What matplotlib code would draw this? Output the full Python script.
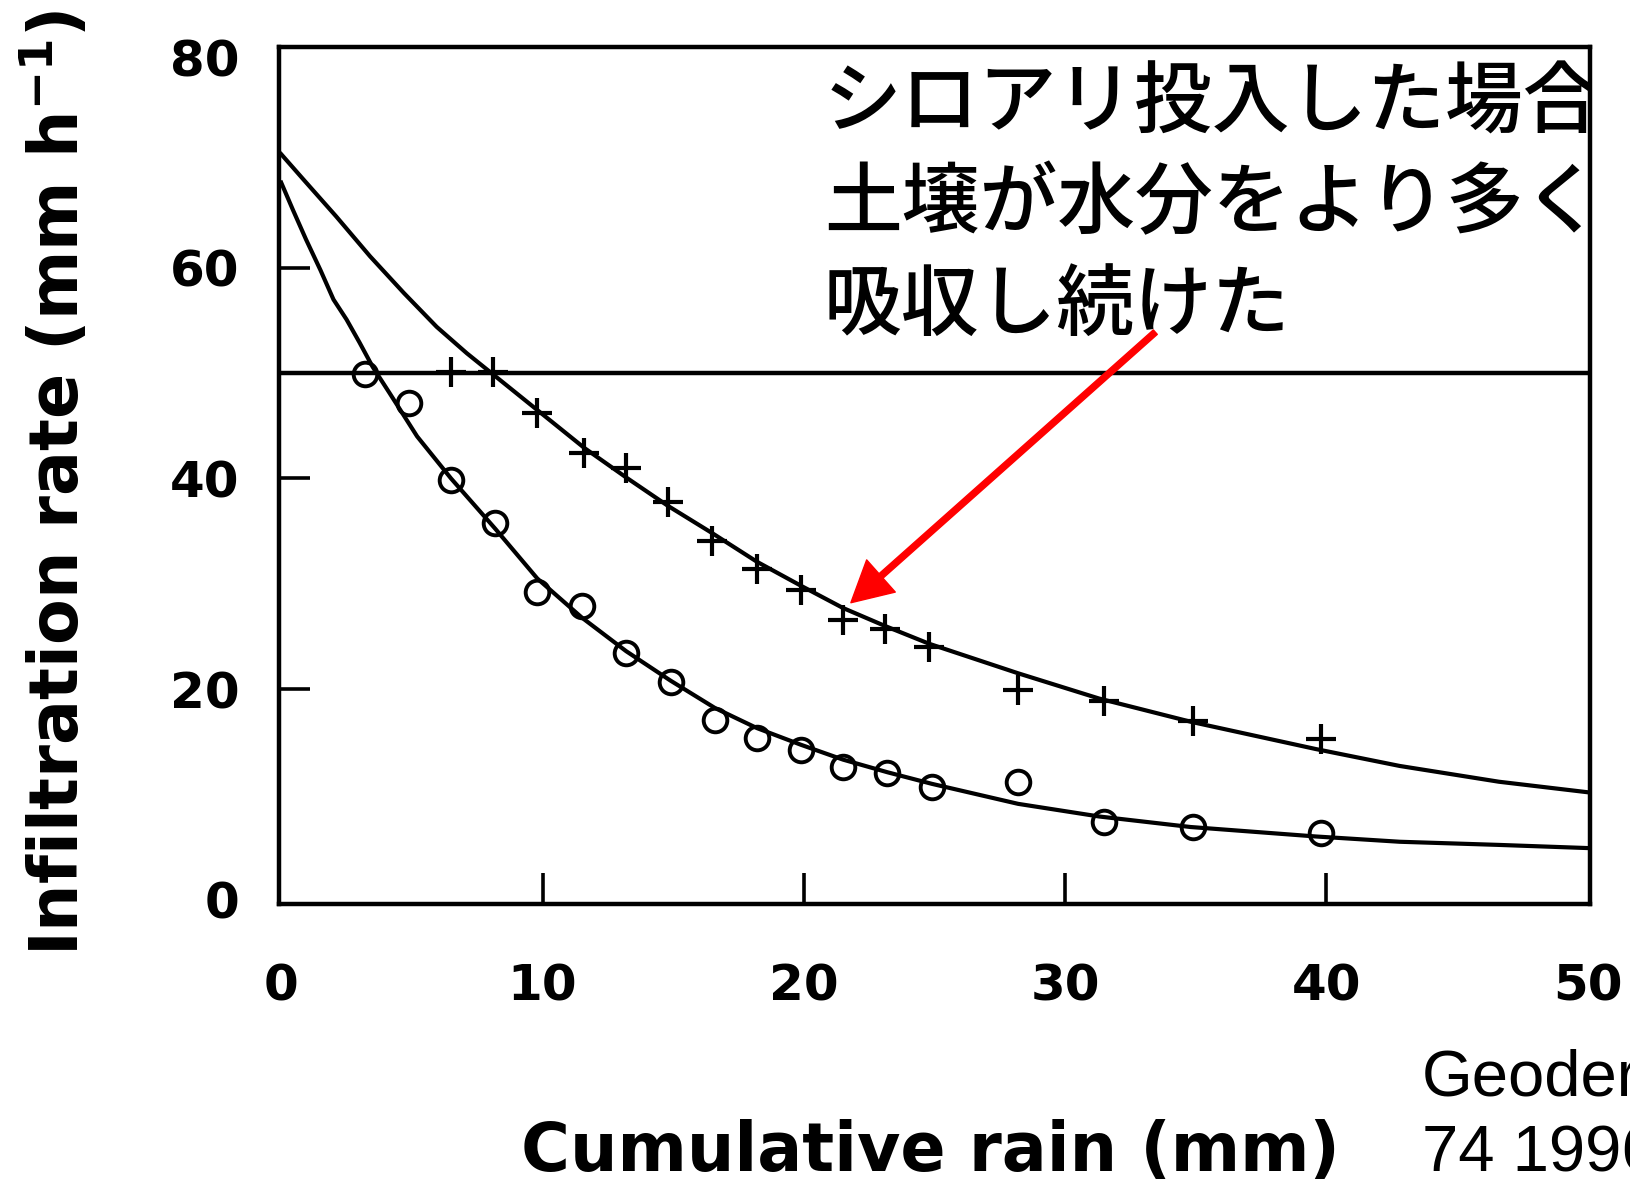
import matplotlib
matplotlib.use("Agg")
import matplotlib.pyplot as plt

# --- data ---
# control treatment (open circles)
circle_x = [3.2, 4.9, 6.5, 8.2, 9.8, 11.5, 13.2, 14.9, 16.6, 18.2, 19.9, 21.5, 23.2, 24.9, 28.2, 31.5, 34.9, 39.8]
circle_y = [49.9, 47.2, 39.9, 35.8, 29.2, 27.9, 23.4, 20.7, 17.1, 15.4, 14.2, 12.6, 12.0, 10.7, 11.2, 7.4, 6.9, 6.3]

# termite treatment (plus markers)
plus_x = [6.5, 8.1, 9.8, 11.6, 13.2, 14.8, 16.5, 18.2, 19.9, 21.5, 23.1, 24.8, 28.2, 31.5, 34.9, 39.8]
plus_y = [50.1, 50.1, 46.2, 42.4, 41.0, 37.8, 34.1, 31.4, 29.4, 26.6, 25.7, 24.0, 19.9, 18.9, 17.0, 15.3]

# fitted curves
upper_x = [0, 0.85, 2.1, 3.4, 4.7, 5.95, 7.1, 8.2, 9.8, 11.6, 13.2, 14.8, 16.5, 18.2, 19.9, 21.5, 23.1,
           24.8, 28.2, 31.3, 34.8, 39.6, 42.8, 46.6, 50]
upper_y = [70.8, 68.4, 64.9, 61.1, 57.6, 54.4, 51.9, 49.7, 46.5, 42.9, 40.1, 37.4, 34.8, 32.1, 29.8, 27.7, 26.0,
           24.3, 21.5, 19.1, 16.9, 14.3, 12.7, 11.2, 10.2]

lower_x = [0, 0.45, 0.95, 1.5, 2.0, 2.5, 3.0, 3.5, 4.15, 5.2, 6.5, 8.2, 9.8, 11.5, 13.2, 14.9, 16.6, 18.2,
           19.9, 21.5, 23.2, 24.9, 28.2, 31.3, 34.8, 39.6, 42.8, 46.6, 50]
lower_y = [68.1, 65.5, 62.7, 59.8, 57.0, 55.1, 52.9, 50.6, 48.1, 44.0, 40.0, 35.2, 30.5, 26.8, 23.6, 20.8,
           18.2, 16.3, 14.7, 13.3, 12.1, 11.0, 9.1, 7.9, 6.9, 6.0, 5.5, 5.2, 4.9]

ref_level = 50
x_ticks = [0, 10, 20, 30, 40, 50]
y_ticks = [0, 20, 40, 60, 80]

note_lines = ["シロアリ投入した場合", "土壌が水分をより多く", "吸収し続けた"]
note_y = [75.6, 66.0, 56.3]
arrow_from = (33.45, 53.9)
arrow_to = (21.8, 28.2)

W, H = 1630, 1192
fig = plt.figure(figsize=(W / 100, H / 100), dpi=100)
ax = fig.add_axes([278.6 / W, 1 - 904.4 / H, (1590.4 - 278.6) / W, (904.4 - 46.8) / H])

ax.plot(upper_x, upper_y, color="black", lw=3)
ax.plot(lower_x, lower_y, color="black", lw=3)
ax.axhline(ref_level, color="black", lw=3.2)
ax.plot(circle_x, circle_y, "o", ms=17, mfc="none", mec="black", mew=2.8)
ax.plot(plus_x, plus_y, "+", ms=21, mec="black", mew=3)

ax.set_xlim(-0.1, 50.1)
ax.set_ylim(-0.45, 81)
ax.set_xticks(x_ticks)
ax.set_yticks(y_ticks)
for s in ax.spines.values():
    s.set_linewidth(3.2)
ax.tick_params(axis="both", direction="in", length=22, width=2.6, labelsize=36)
ax.tick_params(axis="x", pad=42)
ax.tick_params(axis="y", pad=28)
for lab in ax.get_xticklabels() + ax.get_yticklabels():
    lab.set_fontweight("bold")
# the original has no tick marks at the corners
for t in [ax.xaxis.get_major_ticks()[0], ax.xaxis.get_major_ticks()[-1],
          ax.yaxis.get_major_ticks()[0], ax.yaxis.get_major_ticks()[-1]]:
    t.tick1line.set_visible(False)

# japanese note, clipped at the right spine like the original
for line, yy in zip(note_lines, note_y):
    ax.text(20.77, yy, line, fontsize=56, fontweight="medium",
            family=["Noto Sans CJK JP", "DejaVu Sans"],
            ha="left", va="center", clip_on=True)

ax.annotate("", xy=arrow_to, xytext=arrow_from,
            arrowprops=dict(facecolor="red", edgecolor="red", width=4.3,
                            headwidth=31, headlength=29, shrink=0))

fig.text(57 / W, 1 - 483 / H, "Infiltration rate (mm h$^{\\mathbf{-1}}$)", rotation=90,
         fontsize=48, fontweight="bold", ha="center", va="center")
fig.text(930 / W, 1 - 1152 / H, "Cumulative rain (mm)",
         fontsize=48, fontweight="bold", ha="center", va="center")

# source note runs off the right edge in the original too
fig.text(1422 / W, 1 - 1095 / H, "Geoderma", fontsize=47, family="Liberation Sans",
         ha="left", va="baseline")
fig.text(1422 / W, 1 - 1172 / H, "74 1996", fontsize=47, family="Liberation Sans",
         ha="left", va="baseline")

fig.savefig("out.png", dpi=100)
